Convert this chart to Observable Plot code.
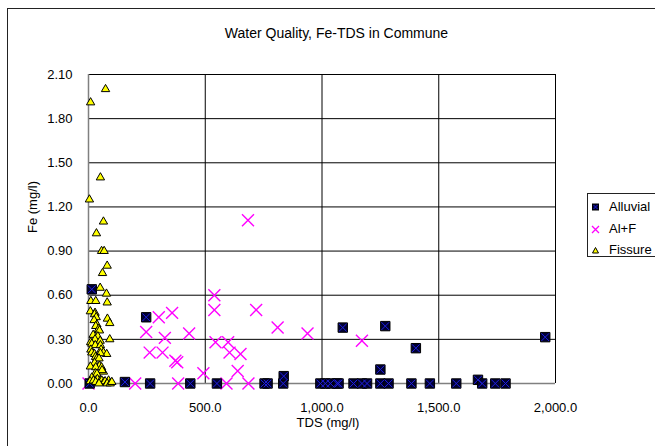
<!DOCTYPE html>
<html>
<head>
<meta charset="utf-8">
<script src="https://cdn.jsdelivr.net/npm/d3@7"></script>
<script src="https://cdn.jsdelivr.net/npm/@observablehq/plot@0.6"></script>
<style>
  html, body { margin: 0; padding: 0; background: #fff; overflow: hidden; width: 655px; height: 446px; }
  #wrap { position: relative; width: 655px; height: 446px; font-family: "Liberation Sans", Arial, sans-serif; }
  #frame { position: absolute; left: 7px; top: 8px; width: 700px; height: 500px; border: 1px solid #222; box-sizing: border-box; }
  #chart { position: absolute; left: 0; top: 0; }
  #legend { position: absolute; left: 587px; top: 193px; width: 90px; height: 64px; border: 1px solid #222; box-sizing: border-box; background: #fff; font-size: 13px; }
  .row { position: absolute; left: 0; height: 16px; line-height: 16px; white-space: nowrap; }
  .row svg { position: absolute; left: 0; top: 0; }
  .row span { position: absolute; left: 20px; top: 0; }
</style>
</head>
<body>
<div id="wrap">
  <div id="frame"></div>
  <div id="chart"></div>
  <div id="legend"></div>
</div>
<script>
// ---- data ----
const title = "Water Quality, Fe-TDS in Commune";
const xLabel = "TDS (mg/l)";
const yLabel = "Fe (mg/l)";
const xTicks = [0, 500, 1000, 1500, 2000];
const yTicks = [0, 0.3, 0.6, 0.9, 1.2, 1.5, 1.8, 2.1];
const seriesNames = ["Alluvial", "Al+F", "Fissure"];

const alluvialTDS = [5, 14, 156, 247, 264, 436, 550, 754, 767, 834, 836, 993, 1014, 1036, 1064, 1071, 1089, 1135, 1171, 1193, 1250, 1250, 1271, 1285, 1383, 1402, 1462, 1575, 1668, 1686, 1742, 1786, 1956];
const alluvialFe  = [0, 0.64, 0.01, 0.45, 0, 0, 0, 0, 0, 0, 0.05, 0, 0, 0, 0, 0, 0.38, 0, 0, 0, 0.095, 0, 0.39, 0, 0, 0.24, 0, 0, 0.025, 0, 0, 0, 0.315];

const alfTDS = [0, 200, 247, 262, 301, 317, 327, 358, 372, 380, 384, 431, 492, 539, 539, 544, 591, 598, 604, 639, 651, 685, 683, 718, 810, 938, 1171];
const alfFe  = [0, 0, 0.35, 0.21, 0.45, 0.21, 0.31, 0.48, 0.155, 0.145, 0, 0.34, 0.07, 0.60, 0.50, 0.28, 0, 0.28, 0.21, 0.085, 0.20, 0, 1.11, 0.50, 0.38, 0.34, 0.29];

const fissureTDS = [73, 9, 51, 4, 64, 34, 56, 67, 80, 60, 50, 77, 80, 10, 31, 8, 28, 26, 33, 81, 24, 91, 36, 31, 43, 47, 20, 40, 91, 28, 50, 9, 14, 29, 51, 10, 54, 64, 14, 78, 26, 51, 30, 36, 45, 26, 8, 47, 31, 56, 64, 58, 29, 36, 14, 38, 7, 21, 31, 51, 57, 66, 71, 86, 80, 93, 100, 45];
const fissureFe  = [2.00, 1.91, 1.40, 1.25, 1.10, 1.02, 0.90, 0.90, 0.80, 0.75, 0.65, 0.61, 0.55, 0.56, 0.56, 0.49, 0.48, 0.47, 0.45, 0.44, 0.43, 0.41, 0.40, 0.39, 0.37, 0.36, 0.33, 0.32, 0.30, 0.30, 0.29, 0.28, 0.27, 0.26, 0.26, 0.23, 0.23, 0.21, 0.21, 0.20, 0.20, 0.205, 0.18, 0.17, 0.17, 0.14, 0.115, 0.12, 0.11, 0.11, 0.08, 0.09, 0.07, 0.066, 0.04, 0.03, 0.015, 0.02, 0.01, 0.02, 0.02, 0.01, 0.015, 0.02, 0, 0, 0.01, 0];

// ---- build tables ----
const zip = (xs, ys) => xs.map((x, i) => ({tds: x, fe: ys[i]}));
const alluvial = zip(alluvialTDS, alluvialFe);
const alf = zip(alfTDS, alfFe);
const fissure = zip(fissureTDS, fissureFe);

const FONT = "'Liberation Sans', Arial, sans-serif";
const navy = "#000033";
const xblue = "#2020e0";
const magenta = "#ff00ff";
const yellow = "#ffff00";

const chart = Plot.plot({
  width: 655,
  height: 446,
  marginLeft: 88,
  marginRight: 100,
  marginTop: 74,
  marginBottom: 63,
  style: {fontFamily: FONT, fontSize: "13px", background: "transparent", color: "#000"},
  x: {domain: [0, 2000], ticks: xTicks},
  y: {domain: [0, 2.1], ticks: yTicks},
  marks: [
    Plot.gridX(xTicks, {stroke: "#000", strokeOpacity: 1, strokeWidth: 1}),
    Plot.gridY(yTicks, {stroke: "#000", strokeOpacity: 1, strokeWidth: 1}),
    Plot.ruleX([0], {stroke: "#808080", strokeWidth: 1.5}),
    Plot.ruleY([0], {stroke: "#808080", strokeWidth: 1.5}),
    Plot.axisX(xTicks, {tickSize: 0, tickPadding: 19, tickFormat: d => d3.format(",.1f")(d), label: null, fontSize: 13}),
    Plot.axisY(yTicks, {tickSize: 0, tickPadding: 16, tickFormat: d => d3.format(".2f")(d), label: null, fontSize: 13}),
    // Al+F crosses
    Plot.dot(alf, {x: "tds", y: "fe", symbol: "times", r: 5.5, stroke: magenta, strokeWidth: 1.4}),
    // Alluvial squares with blue X
    Plot.dot(alluvial, {x: "tds", y: "fe", symbol: "square", r: 5.3, fill: navy, stroke: "#000", strokeWidth: 1}),
    Plot.dot(alluvial, {x: "tds", y: "fe", symbol: "times", r: 3.6, stroke: xblue, strokeWidth: 1}),
    // Fissure triangles
    Plot.dot(fissure, {x: "tds", y: "fe", symbol: "triangle", r: 3.1, fill: yellow, stroke: "#000", strokeWidth: 1}),
    // texts
    Plot.text([title], {frameAnchor: "top", dx: 14.5, dy: -46, fontSize: 14, fill: "#000"}),
    Plot.text([xLabel], {frameAnchor: "bottom", dx: 6, dy: 43, fontSize: 13, fill: "#000"}),
    Plot.text([yLabel], {frameAnchor: "left", rotate: -90, dx: -56, dy: 4, fontSize: 13, fill: "#000"})
  ]
});
document.getElementById("chart").appendChild(chart);

// ---- legend ----
const legend = document.getElementById("legend");
const markerSvgs = [
  `<svg width="12" height="16"><rect x="3.5" y="5" width="6" height="6" fill="${navy}" stroke="#000"/><path d="M4.5 6L8.5 10M4.5 10L8.5 6" stroke="${xblue}" stroke-width="0.9"/></svg>`,
  `<svg width="12" height="16"><path d="M3 5L10 12M3 12L10 5" stroke="${magenta}" stroke-width="1.3"/></svg>`,
  `<svg width="12" height="16"><path d="M6.5 5.5L9.5 11H3.5Z" fill="${yellow}" stroke="#000" stroke-width="1"/></svg>`
];
const rowTops = [5, 27, 48];
seriesNames.forEach((name, i) => {
  const row = document.createElement("div");
  row.className = "row";
  row.style.top = rowTops[i] + "px";
  row.style.left = "1px";
  row.innerHTML = markerSvgs[i] + `<span>${name}</span>`;
  legend.appendChild(row);
});
</script>
</body>
</html>
